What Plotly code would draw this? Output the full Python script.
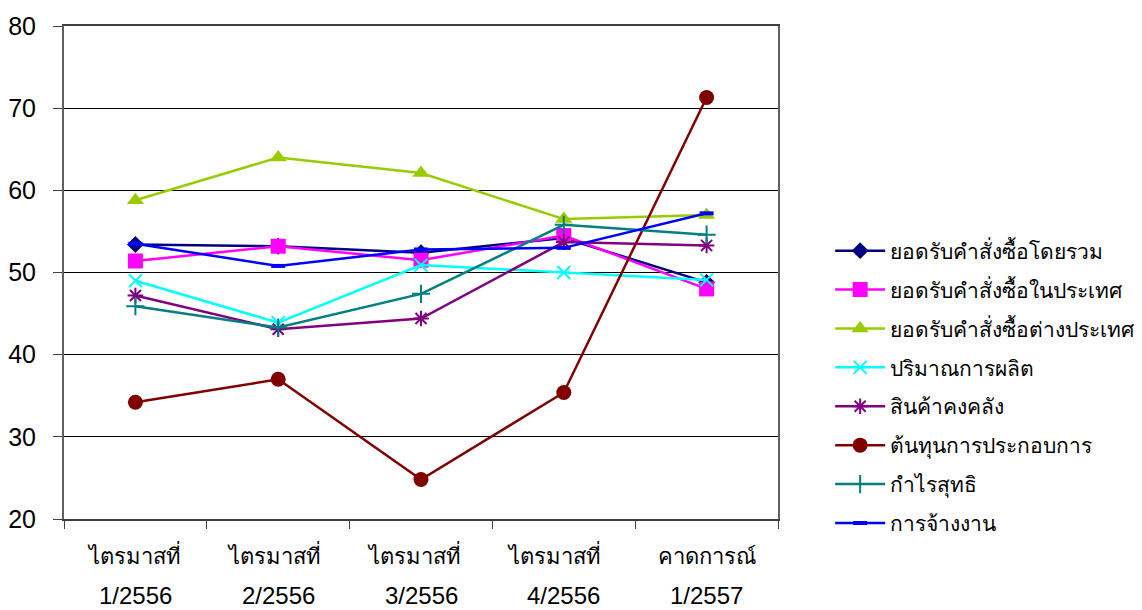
import plotly.graph_objects as go

quarters = ["ไตรมาสที่", "ไตรมาสที่ ", "ไตรมาสที่  ", "ไตรมาสที่   ", "คาดการณ์"]
periods = ["1/2556", "2/2556", "3/2556", "4/2556", "1/2557"]

names = [
    "ยอดรับคำสั่งซื้อโดยรวม",
    "ยอดรับคำสั่งซื้อในประเทศ",
    "ยอดรับคำสั่งซื้อต่างประเทศ",
    "ปริมาณการผลิต",
    "สินค้าคงคลัง",
    "ต้นทุนการประกอบการ",
    "กำไรสุทธิ",
    "การจ้างงาน",
]

orders_total = [53.4, 53.2, 52.4, 54.2, 48.8]
orders_domestic = [51.4, 53.2, 51.5, 54.5, 48.0]
orders_foreign = [58.8, 64.0, 62.1, 56.5, 57.0]
production = [49.0, 43.9, 50.9, 50.0, 49.1]
inventory = [47.2, 43.1, 44.4, 53.7, 53.3]
operating_cost = [34.2, 37.0, 24.8, 35.4, 71.3]
net_profit = [45.9, 43.3, 47.4, 55.8, 54.6]
employment = [53.5, 50.8, 52.8, 53.0, 57.2]

series = [orders_total, orders_domestic, orders_foreign, production,
          inventory, operating_cost, net_profit, employment]
colors = ["#000080", "#FF00FF", "#99CC00", "#00FFFF",
          "#800080", "#800000", "#008080", "#0000FF"]
symbols = ["diamond", "square", "triangle-up", "x-thin-open",
           "asterisk-open", "circle", "cross-thin-open", "line-ew-open"]
sizes = [13, 15, 15, 13, 13, 15, 13, 10]
mlw = [0, 0, 0, 2, 2, 0, 2, 4]

fig = go.Figure()
for i, (name, vals, c, s, sz, lw) in enumerate(zip(names, series, colors, symbols, sizes, mlw)):
    fig.add_trace(go.Scatter(
        x=quarters, y=vals, name=name, mode="lines+markers", legendgroup=f"g{i}",
        line=dict(color=c, width=2.5),
        marker=dict(symbol=s, size=sz, color=c, line=dict(color=c, width=lw)),
    ))

for q, p in zip(quarters, periods):
    fig.add_annotation(x=q, y=0, xref="x", yref="paper", yanchor="top",
                       yshift=-61, text=p, showarrow=False,
                       font=dict(family="Liberation Sans, Arial", size=24, color="black"))

# page body has an 8px default margin, so the figure is 8px smaller than the window
fig.update_layout(
    width=1134, height=602,
    margin=dict(l=56, r=364, t=18, b=91, autoexpand=False),
    paper_bgcolor="white", plot_bgcolor="white",
    font=dict(family="Liberation Sans, Arial", color="black"),
    showlegend=True,
    legend=dict(x=0.725, xanchor="left", y=0.3804, yanchor="middle",
                xref="container", yref="container",
                font=dict(size=21, color="black"), itemwidth=50,
                bgcolor="rgba(0,0,0,0)", tracegroupgap=8.6),
    xaxis=dict(type="category", range=[-0.5, 4.5], tickson="boundaries",
               ticks="outside", ticklen=8, tickcolor="#404040", showline=True,
               linecolor="#404040", linewidth=1.5, mirror=True, showgrid=False,
               automargin=False, ticklabelstandoff=17,
               tickfont=dict(size=22, color="black")),
    yaxis=dict(range=[20, 80], dtick=10, ticks="outside", ticklen=9,
               tickcolor="#404040", showline=True, linecolor="#606060",
               linewidth=2, mirror=True, showgrid=True, gridcolor="black",
               gridwidth=1.2, zeroline=False, automargin=False,
               ticklabelstandoff=12,
               tickfont=dict(size=25, color="black")),
)

fig.write_html("out.html")
